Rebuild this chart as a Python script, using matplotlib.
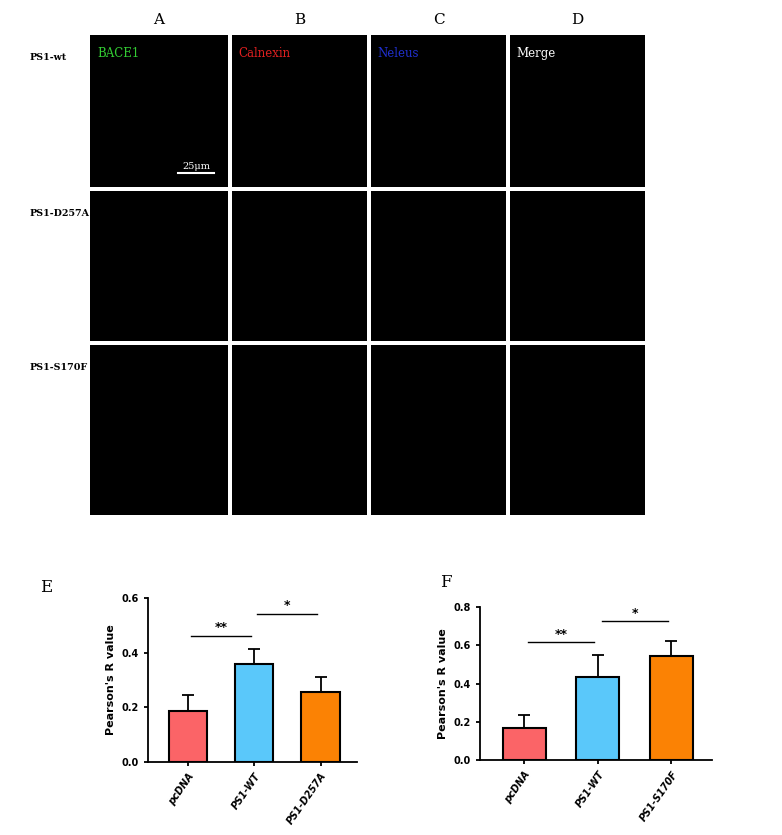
import matplotlib.pyplot as plt
import numpy as np

W, H = 782, 835
cols = ['A', 'B', 'C', 'D']
channels = ['BACE1', 'Calnexin', 'Neleus', 'Merge']
channel_colors = ['#33cc33', '#e02020', '#2030d0', 'white']
rows = ['PS1-wt', 'PS1-D257A', 'PS1-S170F']

groups_e = ['pcDNA', 'PS1-WT', 'PS1-D257A']
means_e = [0.185, 0.36, 0.255]
errs_e = [0.06, 0.053, 0.055]
groups_f = ['pcDNA', 'PS1-WT', 'PS1-S170F']
means_f = [0.165, 0.435, 0.545]
errs_f = [0.07, 0.115, 0.075]
bar_colors = ['#fb6467', '#5ac8fa', '#fb8204']

fig = plt.figure(figsize=(W / 100, H / 100), dpi=100)
fig.patch.set_facecolor('white')

def box(x0, y0, x1, y1):
    return [x0 / W, 1 - y1 / H, (x1 - x0) / W, (y1 - y0) / H]

col_x = [(90, 228), (232, 367), (371, 506), (510, 645)]
row_y = [(35, 187), (191, 341), (345, 515)]
for r, (y0, y1) in enumerate(row_y):
    for c, (x0, x1) in enumerate(col_x):
        ax = fig.add_axes(box(x0, y0, x1, y1))
        ax.set_facecolor('black')
        ax.set_xticks([]); ax.set_yticks([])
        for s in ax.spines.values():
            s.set_visible(False)
        if r == 0:
            ax.text(0.05, 0.92, channels[c], color=channel_colors[c], fontsize=8.5,
                    family='serif', transform=ax.transAxes, va='top')
            if c == 0:
                ax.plot([0.64, 0.9], [0.09, 0.09], color='white', lw=1.5, transform=ax.transAxes)
                ax.text(0.77, 0.12, '25μm', color='white', fontsize=7, family='serif',
                        ha='center', transform=ax.transAxes)
for c, (x0, x1) in enumerate(col_x):
    fig.text((x0 + x1) / 2 / W, 1 - 20 / H, cols[c], ha='center', va='center',
             fontsize=11, family='serif')
for r, (y0, y1) in enumerate(row_y):
    fig.text(30 / W, 1 - (y0 + 22) / H, rows[r], fontsize=6.8, family='serif',
             fontweight='bold', va='center')

def bars(ax, groups, means, errs, ymax, step, sigs):
    x = np.arange(len(groups))
    ax.bar(x, means, 0.58, color=bar_colors, edgecolor='black', linewidth=1.5, zorder=2)
    ax.errorbar(x, means, yerr=[np.zeros(3), errs], fmt='none', ecolor='black',
                elinewidth=1.3, capsize=4, capthick=1.3, zorder=1)
    ax.set_xlim(-0.6, 2.55)
    ax.set_ylim(0, ymax)
    ax.set_yticks(np.arange(0, ymax + 1e-9, step))
    ax.set_yticklabels([f'{v:.1f}' for v in np.arange(0, ymax + 1e-9, step)],
                       fontsize=7, fontweight='bold')
    ax.set_xticks(x)
    ax.set_xticklabels(groups, rotation=55, ha='right', rotation_mode='anchor',
                       fontsize=7, fontweight='bold', style='italic')
    ax.set_ylabel("Pearson's R value", fontsize=8, fontweight='bold')
    for s in ['top', 'right']:
        ax.spines[s].set_visible(False)
    for s in ['left', 'bottom']:
        ax.spines[s].set_linewidth(1.3)
    ax.tick_params(width=1.3, length=3)
    for (a, b, y, label) in sigs:
        ax.plot([a + 0.05, b - 0.05], [y, y], color='black', lw=1)
        ax.text((a + b) / 2, y + ymax * 0.03, label, ha='center', fontsize=9, fontweight='bold')

axE = fig.add_axes(box(148, 598, 357, 762))
bars(axE, groups_e, means_e, errs_e, 0.6, 0.2, [(0, 1, 0.46, '**'), (1, 2, 0.54, '*')])
axF = fig.add_axes(box(480, 607, 712, 760))
bars(axF, groups_f, means_f, errs_f, 0.8, 0.2, [(0, 1, 0.615, '**'), (1, 2, 0.725, '*')])
fig.text(40 / W, 1 - 592 / H, 'E', fontsize=12, family='serif')
fig.text(440 / W, 1 - 587 / H, 'F', fontsize=12, family='serif')

fig.savefig('out.png', dpi=100)
